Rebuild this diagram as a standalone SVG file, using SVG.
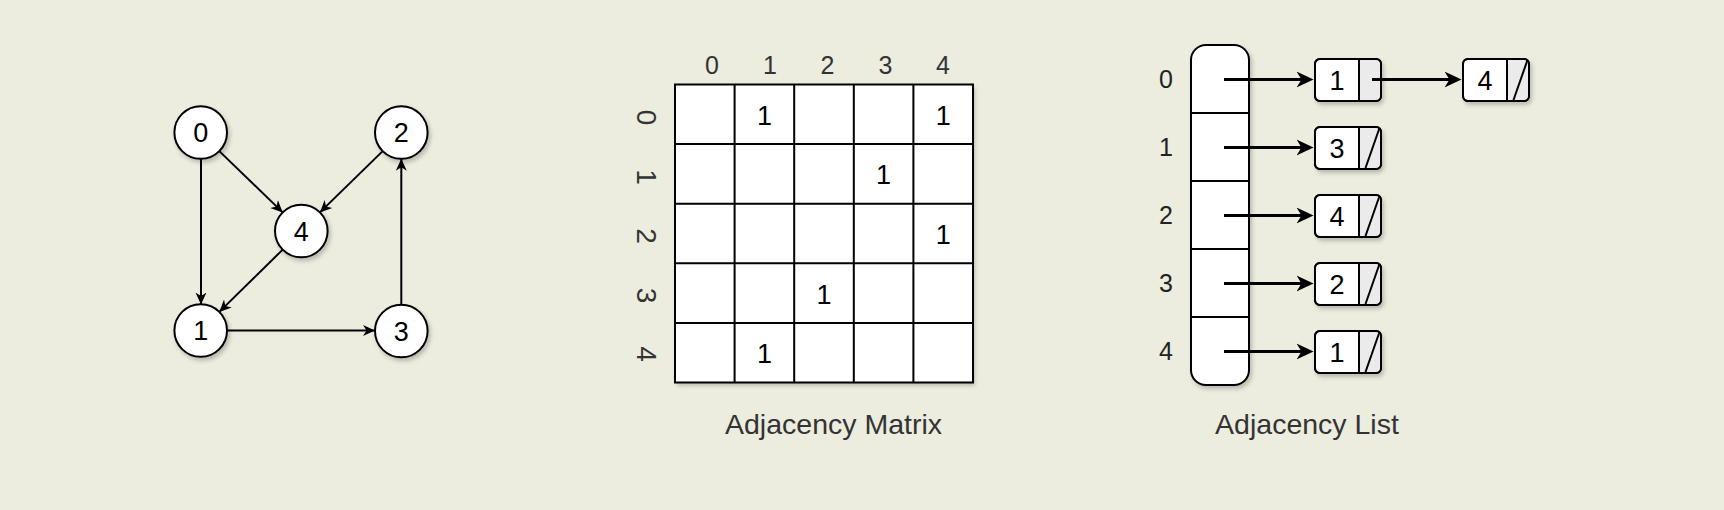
<svg xmlns="http://www.w3.org/2000/svg" width="1724" height="510" viewBox="0 0 1724 510">
<defs>
<filter id="sh" x="-20%" y="-20%" width="150%" height="150%">
<feDropShadow dx="2" dy="3" stdDeviation="2" flood-color="#000" flood-opacity="0.22"/>
</filter>
<marker id="ga" viewBox="0 -7 13 14" markerWidth="13" markerHeight="14" refX="12" refY="0" orient="auto" markerUnits="userSpaceOnUse">
<path d="M0,-5.5 L12,0 L0,5.5 L3.5,0 Z" fill="#000"/>
</marker>
<marker id="la" viewBox="0 -9 18 18" markerWidth="18" markerHeight="18" refX="12" refY="0" orient="auto" markerUnits="userSpaceOnUse">
<path d="M0,-8 L17,0 L0,8 L5,0 Z" fill="#000"/>
</marker>
</defs>
<style>
text{font-family:"Liberation Sans",Arial,Helvetica,sans-serif;}
.n{fill:#fff;stroke:#000;stroke-width:2;}
.t{font-size:27px;fill:#000;text-anchor:middle;}
.h{font-size:25px;fill:#333;text-anchor:middle;}
.r{font-size:28px;fill:#333;text-anchor:middle;}
.lbl{font-size:28.5px;fill:#333;text-anchor:middle;}
.ge{stroke:#000;stroke-width:2;fill:none;marker-end:url(#ga);}
.le{stroke:#000;stroke-width:3;fill:none;marker-end:url(#la);}
.gl{stroke:#000;stroke-width:2;fill:none;}
.nr{fill:#ebebeb;stroke:none;}
</style>
<rect x="0" y="0" width="1724" height="510" fill="#ECECDF"/>

<!-- Graph -->
<g id="edges-graph">
<path class="ge" d="M201,159 L201,304.5"/>
<path class="ge" d="M219.3,151.1 L282.7,212.4"/>
<path class="ge" d="M382.7,151.1 L319.9,212.4"/>
<path class="ge" d="M282.7,249.6 L219.3,311.9"/>
<path class="ge" d="M227,330.5 L375,330.5"/>
<path class="ge" d="M401.3,304.7 L401.3,158.8"/>
</g>
<g id="g0"><circle class="n" filter="url(#sh)" cx="200.7" cy="132.5" r="26.3"/><text class="t" x="200.7" y="142.2">0</text></g>
<g id="g2"><circle class="n" filter="url(#sh)" cx="401.3" cy="132.5" r="26.3"/><text class="t" x="401.3" y="142.2">2</text></g>
<g id="g4"><circle class="n" filter="url(#sh)" cx="301.3" cy="231" r="26.3"/><text class="t" x="301.3" y="240.7">4</text></g>
<g id="g1"><circle class="n" filter="url(#sh)" cx="200.7" cy="330.5" r="26.3"/><text class="t" x="200.7" y="340.2">1</text></g>
<g id="g3"><circle class="n" filter="url(#sh)" cx="401.3" cy="331" r="26.3"/><text class="t" x="401.3" y="340.7">3</text></g>

<!-- Matrix -->
<g id="matrix">
<rect x="675" y="84.5" width="298" height="298" fill="#fff" filter="url(#sh)"/>
<g class="gl">
<rect x="675" y="84.5" width="298" height="298"/>
<path d="M734.6,84.5V382.5M794.2,84.5V382.5M853.8,84.5V382.5M913.4,84.5V382.5"/>
<path d="M675,144.1H973M675,203.7H973M675,263.3H973M675,322.9H973"/>
</g>
<text class="t" x="764.4" y="124.8">1</text>
<text class="t" x="943.2" y="124.8">1</text>
<text class="t" x="883.6" y="184.4">1</text>
<text class="t" x="943.2" y="244">1</text>
<text class="t" x="824" y="303.6">1</text>
<text class="t" x="764.4" y="363.2">1</text>
</g>
<g id="matrix-cols">
<text class="h" x="712" y="74.3">0</text>
<text class="h" x="770" y="74.3">1</text>
<text class="h" x="827.5" y="74.3">2</text>
<text class="h" x="885.5" y="74.3">3</text>
<text class="h" x="943" y="74.3">4</text>
</g>
<g id="matrix-rows">
<text class="r" transform="translate(647,117.5) rotate(90)" x="0" y="10">0</text>
<text class="r" transform="translate(647,177) rotate(90)" x="0" y="10">1</text>
<text class="r" transform="translate(647,236) rotate(90)" x="0" y="10">2</text>
<text class="r" transform="translate(647,295.5) rotate(90)" x="0" y="10">3</text>
<text class="r" transform="translate(647,354) rotate(90)" x="0" y="10">4</text>
</g>
<g id="label-matrix"><text class="lbl" x="833.5" y="434">Adjacency Matrix</text></g>

<!-- Adjacency list -->
<g id="array">
<rect class="n" filter="url(#sh)" x="1191" y="45" width="58" height="340" rx="15" ry="15"/>
<path class="gl" d="M1191,113H1249M1191,181H1249M1191,249H1249M1191,317H1249"/>
</g>
<g id="array-index">
<text class="h" x="1166" y="88" style="fill:#222">0</text>
<text class="h" x="1166" y="156" style="fill:#222">1</text>
<text class="h" x="1166" y="224" style="fill:#222">2</text>
<text class="h" x="1166" y="292" style="fill:#222">3</text>
<text class="h" x="1166" y="360" style="fill:#222">4</text>
</g>
<g id="list-nodes">
<g id="n0a" transform="translate(1315,59)">
<rect class="n" filter="url(#sh)" x="0" y="0" width="66" height="42" rx="5"/>
<path class="nr" d="M44,1 H61 A4,4 0 0 1 65,5 V37 A4,4 0 0 1 61,41 H44 Z"/>
<rect x="0" y="0" width="66" height="42" rx="5" fill="none" stroke="#000" stroke-width="2"/>
<path class="gl" d="M44,0V42"/>
<text class="t" x="22" y="30.6">1</text>
</g>
<g id="n0b" transform="translate(1463,59)">
<rect class="n" filter="url(#sh)" x="0" y="0" width="66" height="42" rx="5"/>
<path class="nr" d="M44,1 H61 A4,4 0 0 1 65,5 V37 A4,4 0 0 1 61,41 H44 Z"/>
<rect x="0" y="0" width="66" height="42" rx="5" fill="none" stroke="#000" stroke-width="2"/>
<path class="gl" d="M44,0V42M64.5,1L50.5,41"/>
<text class="t" x="22" y="30.6">4</text>
</g>
<g id="n1" transform="translate(1315,127)">
<rect class="n" filter="url(#sh)" x="0" y="0" width="66" height="42" rx="5"/>
<path class="nr" d="M44,1 H61 A4,4 0 0 1 65,5 V37 A4,4 0 0 1 61,41 H44 Z"/>
<rect x="0" y="0" width="66" height="42" rx="5" fill="none" stroke="#000" stroke-width="2"/>
<path class="gl" d="M44,0V42M64.5,1L50.5,41"/>
<text class="t" x="22" y="30.6">3</text>
</g>
<g id="n2" transform="translate(1315,195)">
<rect class="n" filter="url(#sh)" x="0" y="0" width="66" height="42" rx="5"/>
<path class="nr" d="M44,1 H61 A4,4 0 0 1 65,5 V37 A4,4 0 0 1 61,41 H44 Z"/>
<rect x="0" y="0" width="66" height="42" rx="5" fill="none" stroke="#000" stroke-width="2"/>
<path class="gl" d="M44,0V42M64.5,1L50.5,41"/>
<text class="t" x="22" y="30.6">4</text>
</g>
<g id="n3" transform="translate(1315,263)">
<rect class="n" filter="url(#sh)" x="0" y="0" width="66" height="42" rx="5"/>
<path class="nr" d="M44,1 H61 A4,4 0 0 1 65,5 V37 A4,4 0 0 1 61,41 H44 Z"/>
<rect x="0" y="0" width="66" height="42" rx="5" fill="none" stroke="#000" stroke-width="2"/>
<path class="gl" d="M44,0V42M64.5,1L50.5,41"/>
<text class="t" x="22" y="30.6">2</text>
</g>
<g id="n4" transform="translate(1315,331)">
<rect class="n" filter="url(#sh)" x="0" y="0" width="66" height="42" rx="5"/>
<path class="nr" d="M44,1 H61 A4,4 0 0 1 65,5 V37 A4,4 0 0 1 61,41 H44 Z"/>
<rect x="0" y="0" width="66" height="42" rx="5" fill="none" stroke="#000" stroke-width="2"/>
<path class="gl" d="M44,0V42M64.5,1L50.5,41"/>
<text class="t" x="22" y="30.6">1</text>
</g>
</g>
<g id="edges-list">
<path class="le" d="M1224,79.5 H1308.5"/>
<path class="le" d="M1372,79.5 H1456.5"/>
<path class="le" d="M1224,147.5 H1308.5"/>
<path class="le" d="M1224,215.5 H1308.5"/>
<path class="le" d="M1224,283.5 H1308.5"/>
<path class="le" d="M1224,351.5 H1308.5"/>
</g>
<g id="label-list"><text class="lbl" x="1307" y="434">Adjacency List</text></g>
</svg>
